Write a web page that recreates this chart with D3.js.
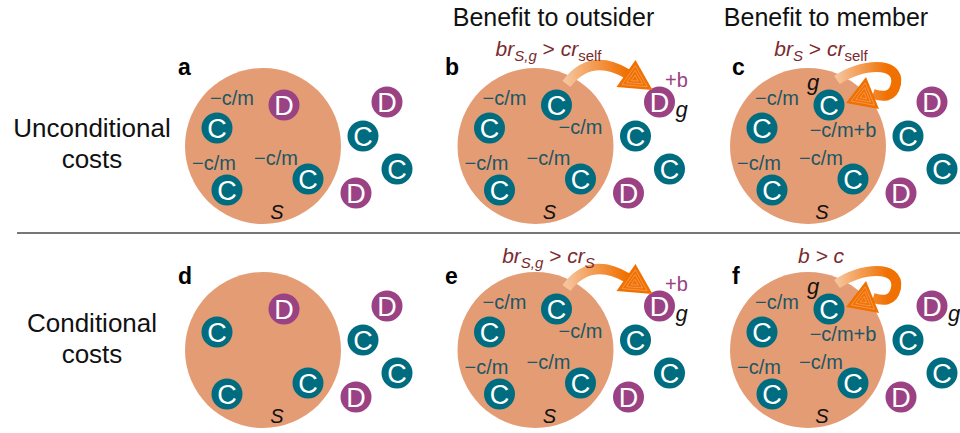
<!DOCTYPE html>
<html><head><meta charset="utf-8">
<script src="https://cdn.jsdelivr.net/npm/d3@7"></script>
<style>body{margin:0;background:#fff}svg{display:block;font-family:"Liberation Sans",Arial,sans-serif}</style>
</head><body><svg id="chart" width="960" height="433"></svg>
<script>
// ---- data ----
const panelLetters = ['a','b','c','d','e','f'];
const panelRows = [0,0,0,1,1,1];
const panelCols = [0,1,2,0,1,2];
const columnHeaders = ['', 'Benefit to outsider', 'Benefit to member'];
const rowLabels = [['Unconditional','costs'], ['Conditional','costs']];
// inside group S: top, left, bottom-left, bottom-right
const innerTypes = [['D','C','C','C'],['C','C','C','C'],['C','C','C','C'],['D','C','C','C'],['C','C','C','C'],['C','C','C','C']];
// outside: top, middle, right, bottom
const outerTypes = [['D','C','C','D'],['D','C','C','D'],['D','C','C','D'],['D','C','C','D'],['D','C','C','D'],['D','C','C','D']];
const costShown = [true,true,true,false,true,true];
const arrowKinds = ['none','outsider','member','none','outsider','member'];
const conditions = [
  [],
  [['br','i'],['S,g','isub'],[' > ',''],['cr','i'],['self','sub']],
  [['br','i'],['S','isub'],[' > ',''],['cr','i'],['self','sub']],
  [],
  [['br','i'],['S,g','isub'],[' > ',''],['cr','i'],['S','isub']],
  [['b > c','i']]
];
const recipientGain = ['', '+b', '', '', '+b', ''];
const outsiderG = [false,true,false,false,true,true];
const memberG = [false,false,true,false,false,true];
const costLabel = '\u2212c/m';
const memberCostLabel = '\u2212c/m+b';
const groupLabel = 'S';

// ---- layout ----
const svg = d3.select('#chart');
const colX = d3.scaleLinear().domain([0,2]).range([263,808]);
const rowY = d3.scaleLinear().domain([0,1]).range([146,350]);
const letterX = d3.scaleOrdinal().domain([0,1,2]).range([178,445,732]);
const letterY = d3.scaleOrdinal().domain([0,1]).range([75,284]);
const R = 78, r = 15.5;
const innerPos = [[21,-41],[-46,-18],[-36,44],[45,33]];
const outerPos = [[124,-44],[100,-10],[134,23],[93,47]];
const costPos = [[-31,-41],[45,-12],[-49,24],[13,19]];
const colors = {group:'#e49c74', C:'#006c80', D:'#9a4283', cost:'#1d5664', cond:'#7a2b2e', gain:'#9a4283', arrow:'#f07000'};

const defs = svg.append('defs');
const g1 = defs.append('linearGradient').attr('id','gradOut').attr('gradientUnits','userSpaceOnUse')
  .attr('x1',31).attr('y1',-64).attr('x2',92).attr('y2',-72);
g1.append('stop').attr('offset',0).attr('stop-color','#f6c49c');
g1.append('stop').attr('offset',1).attr('stop-color',colors.arrow);
const g2 = defs.append('linearGradient').attr('id','gradMem').attr('gradientUnits','userSpaceOnUse')
  .attr('x1',29).attr('y1',-66).attr('x2',80).attr('y2',-66);
g2.append('stop').attr('offset',0).attr('stop-color','#f6c49c');
g2.append('stop').attr('offset',1).attr('stop-color',colors.arrow);

// headers
svg.selectAll('text.header').data(columnHeaders.map((t,i)=>({t,i})).filter(d=>d.t)).join('text')
  .attr('class','header').attr('x',d=>colX(d.i)+18).attr('y',26)
  .attr('text-anchor','middle').attr('font-size',25).attr('fill','#111').text(d=>d.t);

// row labels
rowLabels.forEach((lines,ri)=>{
  svg.append('text').attr('x',92).attr('y',ri===0?137:332).attr('text-anchor','middle')
    .attr('font-size',26).attr('fill','#111')
    .selectAll('tspan').data(lines).join('tspan').attr('x',92).attr('dy',(d,i)=>i?31:0).text(d=>d);
});

// separator
svg.append('line').attr('x1',17).attr('x2',960).attr('y1',233).attr('y2',233)
  .attr('stroke','#777').attr('stroke-width',2);

function node(g, x, y, type){
  g.append('circle').attr('cx',x).attr('cy',y).attr('r',r).attr('fill',colors[type]);
  g.append('text').attr('x',x).attr('y',y+9.5).attr('text-anchor','middle')
    .attr('font-size',27).attr('fill','#fff').text(type);
}

function triangle(g, tri){
  g.append('path').attr('d','M'+tri.join('L')+'Z').attr('fill',colors.arrow);
  const m=[(tri[0][0]+tri[1][0]+tri[2][0])/3,(tri[0][1]+tri[1][1]+tri[2][1])/3];
  [0.7,0.45,0.2].forEach(s=>{
    const t2=tri.map(v=>[m[0]+(v[0]-m[0])*s, m[1]+(v[1]-m[1])*s]);
    g.append('path').attr('d','M'+t2.join('L')+'Z').attr('fill','none').attr('stroke','#f8a060').attr('stroke-width',0.8);
  });
}

panelLetters.forEach((L,p)=>{
  const cx = colX(panelCols[p]), cy = rowY(panelRows[p]);
  svg.append('text').attr('x',letterX(panelCols[p])).attr('y',letterY(panelRows[p]))
    .attr('font-size',23).attr('font-weight','bold').attr('fill','#000').text(L);
  const g = svg.append('g').attr('transform',`translate(${cx},${cy})`);
  g.append('circle').attr('r',R).attr('fill',colors.group);
  g.append('text').attr('x',14).attr('y',73).attr('text-anchor','middle').attr('font-size',20)
    .attr('font-style','italic').attr('fill','#111').text(groupLabel);
  innerTypes[p].forEach((t,k)=>node(g, innerPos[k][0], innerPos[k][1], t));
  outerTypes[p].forEach((t,k)=>node(g, outerPos[k][0], outerPos[k][1], t));
  if(costShown[p]){
    costPos.forEach((q,k)=>{
      if(k===1 && innerTypes[p][0]!=='C') return;
      let txt = costLabel, x=q[0], y=q[1];
      if(k===1 && arrowKinds[p]==='member'){ txt = memberCostLabel; x = 35; y = -9; }
      g.append('text').attr('x',x).attr('y',y).attr('text-anchor','middle').attr('font-size',20)
        .attr('fill',colors.cost).text(txt);
    });
  }
  if(recipientGain[p]) g.append('text').attr('x',141).attr('y',-59).attr('text-anchor','middle')
    .attr('font-size',20).attr('fill',colors.gain).text(recipientGain[p]);
  if(outsiderG[p]) g.append('text').attr('x',146).attr('y',-29).attr('text-anchor','middle')
    .attr('font-size',22).attr('font-style','italic').attr('fill','#111').text('g');
  if(memberG[p]) g.append('text').attr('x',5).attr('y',-56).attr('text-anchor','middle')
    .attr('font-size',22).attr('font-style','italic').attr('fill','#111').text('g');
  // arrows
  if(arrowKinds[p]==='outsider'){
    g.append('path').attr('d','M31,-62 Q55,-94 92,-72').attr('fill','none')
      .attr('stroke','url(#gradOut)').attr('stroke-width',10);
    triangle(g, [[100,-86],[81,-59],[117,-56]]);
  } else if(arrowKinds[p]==='member'){
    g.append('path').attr('d','M29,-66 C52,-82 92,-86 88,-62 C85,-48 75,-49 65,-52').attr('fill','none')
      .attr('stroke','url(#gradMem)').attr('stroke-width',10);
    triangle(g, [[38,-43],[58,-69],[71,-37]]);
  }
  // condition formula
  if(conditions[p].length){
    const t = g.append('text').attr('x',13).attr('y',panelRows[p]?-87:-90).attr('text-anchor','middle')
      .attr('font-size',21).attr('fill',colors.cond);
    let shifted=false;
    conditions[p].forEach(([s,st])=>{
      const sp = t.append('tspan').text(s);
      if(st.includes('i')) sp.attr('font-style','italic');
      if(st.includes('sub')){ sp.attr('font-size',15).attr('dy',shifted?0:5); shifted=true; }
      else { if(shifted){ sp.attr('dy',-5); shifted=false; } }
    });
  }
});
</script></body></html>
